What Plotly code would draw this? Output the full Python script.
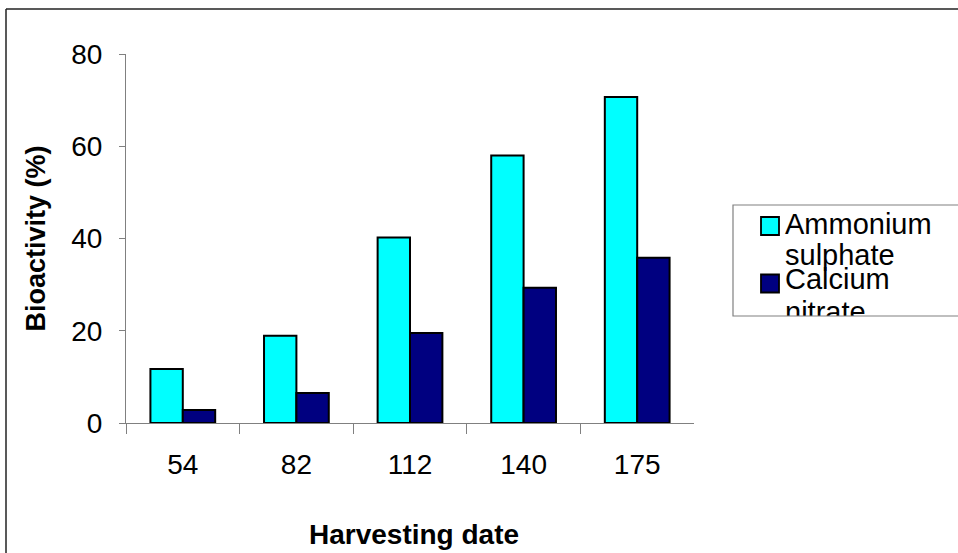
import plotly.graph_objects as go

# Data
harvest_dates = ["54", "82", "112", "140", "175"]
series_names = ["Ammonium sulphate", "Calcium nitrate"]
ammonium_sulphate = [11.7, 18.9, 40.2, 58.0, 70.7]
calcium_nitrate = [2.8, 6.5, 19.5, 29.3, 35.8]
y_ticks = [0, 20, 40, 60, 80]

colors = ["#00FFFF", "#000080"]
FONT = "Arial, 'Liberation Sans', sans-serif"

W, H = 958, 553
# plot area in pixels
PX0, PX1 = 126, 694
PY_TOP, PY_BOT = 54, 423
# legend box in pixels
LX0, LY_TOP, LY_BOT = 733, 205, 316


def px_x(x):
    return x / W


def px_y(y):
    return (H - y) / H


fig = go.Figure()

for name, vals, col in zip(series_names, [ammonium_sulphate, calcium_nitrate], colors):
    fig.add_trace(go.Bar(
        x=harvest_dates, y=vals, name=name,
        marker=dict(color=col, line=dict(color="black", width=2)),
        showlegend=False, xaxis="x", yaxis="y",
    ))

# Legend drawn inside its own clipped subplot
leg_w = W - LX0
leg_h = LY_BOT - LY_TOP
marker_y = [leg_h - 21, leg_h - 78.5]
line_y = [[leg_h - 22, leg_h - 53], [leg_h - 77, leg_h - 110]]
for name, col, my, ly in zip(series_names, colors, marker_y, line_y):
    fig.add_trace(go.Scatter(
        x=[37], y=[my], mode="markers",
        marker=dict(symbol="square", size=18, color=col, line=dict(color="black", width=1.8)),
        xaxis="x2", yaxis="y2", showlegend=False, hoverinfo="skip", cliponaxis=True,
    ))
    fig.add_trace(go.Scatter(
        x=[52, 52], y=ly, mode="text", text=name.split(" "),
        textposition="middle right",
        textfont=dict(family=FONT, size=29, color="black"),
        xaxis="x2", yaxis="y2", showlegend=False, hoverinfo="skip", cliponaxis=True,
    ))

fig.update_layout(
    template="none",
    width=W, height=H,
    margin=dict(l=0, r=0, t=0, b=0, pad=0, autoexpand=False),
    paper_bgcolor="white", plot_bgcolor="white",
    barmode="group", bargap=0.43, bargroupgap=0,
    font=dict(family=FONT, size=28, color="black"),
    xaxis=dict(
        domain=[px_x(PX0), px_x(PX1)], anchor="y", automargin=False,
        type="category", tickson="boundaries",
        ticks="outside", ticklen=10, tickcolor="#808080", tickwidth=1,
        showline=True, linecolor="#808080", linewidth=1,
        showgrid=False, zeroline=False,
        tickfont=dict(family=FONT, size=28, color="black"),
        ticklabelstandoff=16,
    ),
    yaxis=dict(
        domain=[px_y(PY_BOT), px_y(PY_TOP)], anchor="x", automargin=False,
        range=[0, 80], tickvals=y_ticks,
        ticks="outside", ticklen=6, tickcolor="#808080", tickwidth=1,
        showline=True, linecolor="#808080", linewidth=1,
        showgrid=False, zeroline=False,
        tickfont=dict(family=FONT, size=28, color="black"),
        ticklabelstandoff=11,
    ),
    xaxis2=dict(
        domain=[px_x(LX0), 1], anchor="y2", range=[0, leg_w], automargin=False,
        visible=False, fixedrange=True,
    ),
    yaxis2=dict(
        domain=[px_y(LY_BOT), px_y(LY_TOP)], anchor="x2", range=[0, leg_h],
        automargin=False, visible=False, fixedrange=True,
    ),
    shapes=[
        # legend frame
        dict(type="rect", xref="paper", yref="paper",
             x0=px_x(LX0), x1=1.05, y0=px_y(LY_BOT), y1=px_y(LY_TOP),
             line=dict(color="#808080", width=1.2), fillcolor="rgba(0,0,0,0)"),
        # chart frame
        dict(type="line", xref="paper", yref="paper",
             x0=px_x(6), x1=1.05, y0=px_y(9), y1=px_y(9),
             line=dict(color="#222222", width=1.5)),
        dict(type="line", xref="paper", yref="paper",
             x0=px_x(6), x1=px_x(6), y0=px_y(9), y1=-0.05,
             line=dict(color="#222222", width=1.5)),
    ],
    annotations=[
        dict(text="<b>Bioactivity (%)</b>", xref="paper", yref="paper",
             x=px_x(35), y=px_y((PY_TOP + PY_BOT) / 2), textangle=-90,
             showarrow=False, font=dict(family=FONT, size=27, color="black"),
             xanchor="center", yanchor="middle"),
        dict(text="<b>Harvesting date</b>", xref="paper", yref="paper",
             x=px_x(414), y=px_y(534),
             showarrow=False, font=dict(family=FONT, size=28, color="black"),
             xanchor="center", yanchor="middle"),
    ],
)

fig.write_html("out.html")
